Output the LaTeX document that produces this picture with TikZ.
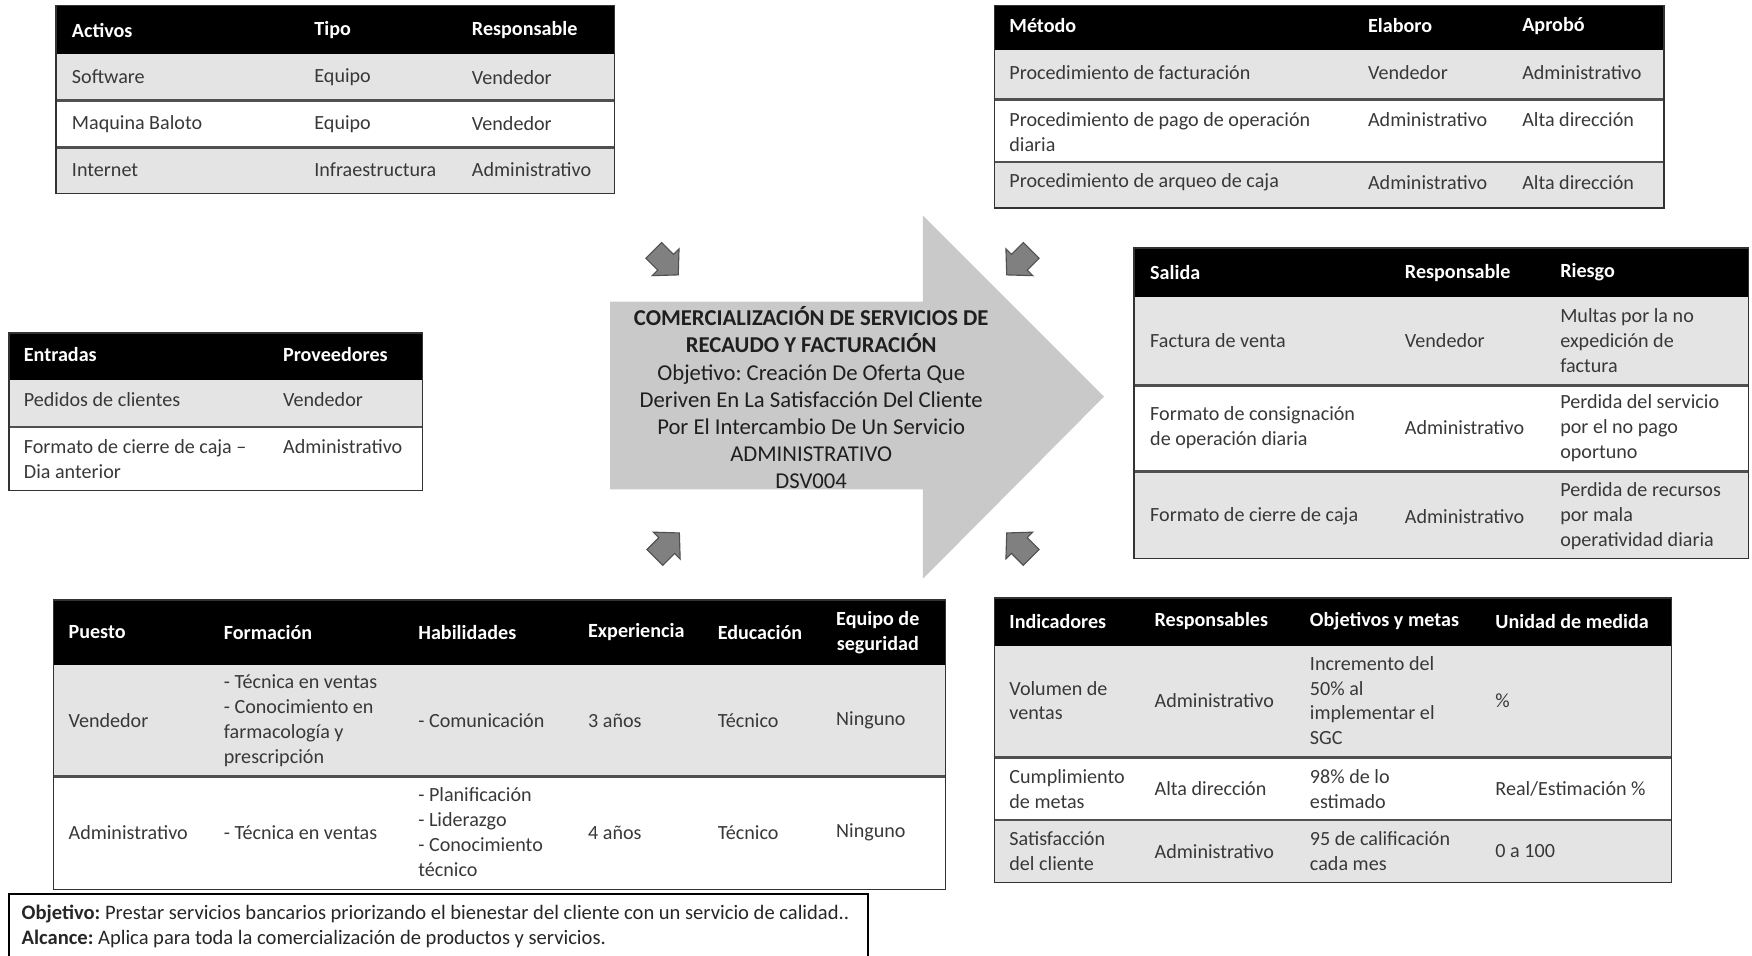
\documentclass[tikz,border=0pt]{standalone}
\usepackage{fontspec}
\setmainfont{Carlito}
\frenchspacing
\definecolor{rowgray}{HTML}{E4E4E4}
\definecolor{bodytxt}{HTML}{383838}
\definecolor{sepline}{HTML}{505050}
\definecolor{bigarrow}{HTML}{C9C9C9}
\definecolor{smallarrow}{HTML}{808080}
\definecolor{smalledge}{HTML}{505050}
\newcommand\tblfont{\fontsize{9}{11.15}\selectfont}
\newcommand\titlefont{\fontsize{10.15}{12.15}\selectfont}
\newcommand\notefont{\fontsize{9.2}{11}\selectfont}
\tikzset{
  hdr/.style={anchor=west, inner sep=0pt, text=white, font=\tblfont\bfseries, align=left},
  cell/.style={anchor=west, inner sep=0pt, text=bodytxt, font=\tblfont, align=left},
  headbar/.style={fill=black},
  graybar/.style={fill=rowgray},
  rowsep/.style={draw=sepline, line width=1pt},
  frame/.style={draw=black!80, line width=0.7pt},
  tinyarrow/.style={fill=smallarrow, draw=smalledge, line width=0.5pt, line join=miter},
}
\begin{document}
\begin{tikzpicture}[x=0.5pt,y=-0.5pt]
\useasboundingbox (0,0) rectangle (1568,855);

% ---------- central process arrow ----------
\fill[bigarrow] (546,270) -- (826,270) -- (826,193) -- (988,355) -- (826,518) -- (826,438) -- (546,438) -- cycle;
\node[align=center, inner sep=0pt, text=black!88, font=\titlefont] (proc) at (726,356)
  {\textbf{COMERCIALIZACIÓN DE SERVICIOS DE}\\
   \textbf{RECAUDO Y FACTURACIÓN}\\
   Objetivo: Creación De Oferta Que\\
   Deriven En La Satisfacción Del Cliente\\
   Por El Intercambio De Un Servicio\\
   ADMINISTRATIVO\\
   DSV004};

% ---------- four small block arrows around the process ----------
\foreach \cx/\cy/\ang in {595/234/-45, 913/234/-135, 596/489/45, 913/489/135}{
  \begin{scope}[shift={(\cx,\cy)}, rotate=\ang]
    \draw[tinyarrow] (-14,-10) -- (1,-10) -- (1,-17) -- (17,0) -- (1,17) -- (1,10) -- (-14,10) -- cycle;
  \end{scope}
}

% ---------- Activos ----------
\fill[headbar] (50,5) rectangle (550,48);
\fill[graybar] (50,48) rectangle (550,90);
\fill[graybar] (50,132) rectangle (550,173);
\draw[rowsep] (50,90) -- (550,90);
\draw[rowsep] (50,132) -- (550,132);
\draw[frame] (50,5) rectangle (550,173);
\node[hdr] (a-h1) at (64,27) {Activos};
\node[hdr] (a-h2) at (281,27) {Tipo};
\node[hdr] (a-h3) at (422,27) {Responsable};
\node[cell] (a-11) at (64,69) {Software};
\node[cell] (a-12) at (281,69) {Equipo};
\node[cell] (a-13) at (422,69) {Vendedor};
\node[cell] (a-21) at (64,111) {Maquina Baloto};
\node[cell] (a-22) at (281,111) {Equipo};
\node[cell] (a-23) at (422,111) {Vendedor};
\node[cell] (a-31) at (64,152) {Internet};
\node[cell] (a-32) at (281,152) {Infraestructura};
\node[cell] (a-33) at (422,152) {Administrativo};

% ---------- Método ----------
\fill[headbar] (890,5) rectangle (1489,45);
\fill[graybar] (890,45) rectangle (1489,89);
\fill[graybar] (890,145) rectangle (1489,186);
\draw[rowsep] (890,89) -- (1489,89);
\draw[rowsep] (890,145) -- (1489,145);
\draw[frame] (890,5) rectangle (1489,186);
\node[hdr] (m-h1) at (903,23) {Método};
\node[hdr] (m-h2) at (1224,23) {Elaboro};
\node[hdr] (m-h3) at (1362,23) {Aprobó};
\node[cell] (m-11) at (903,65) {Procedimiento de facturación};
\node[cell] (m-12) at (1224,65) {Vendedor};
\node[cell] (m-13) at (1362,65) {Administrativo};
\node[cell] (m-21) at (903,118) {Procedimiento de pago de operación\\diaria};
\node[cell] (m-22) at (1224,107) {Administrativo};
\node[cell] (m-23) at (1362,107) {Alta dirección};
\node[cell] (m-31) at (903,163) {Procedimiento de arqueo de caja};
\node[cell] (m-32) at (1224,163) {Administrativo};
\node[cell] (m-33) at (1362,163) {Alta dirección};

% ---------- Entradas ----------
\fill[headbar] (8,298) rectangle (378,340);
\fill[graybar] (8,340) rectangle (378,382);
\draw[rowsep] (8,382) -- (378,382);
\draw[frame] (8,298) rectangle (378,439);
\node[hdr] (e-h1) at (21,317) {Entradas};
\node[hdr] (e-h2) at (253,317) {Proveedores};
\node[cell] (e-11) at (21,358) {Pedidos de clientes};
\node[cell] (e-12) at (253,358) {Vendedor};
\node[cell] (e-21) at (21,411) {Formato de cierre de caja –\\Dia anterior};
\node[cell] (e-22) at (253,400) {Administrativo};

% ---------- Salida ----------
\fill[headbar] (1015,222) rectangle (1565,266);
\fill[graybar] (1015,266) rectangle (1565,345);
\fill[graybar] (1015,422) rectangle (1565,500);
\draw[rowsep] (1015,345) -- (1565,345);
\draw[rowsep] (1015,422) -- (1565,422);
\draw[frame] (1015,222) rectangle (1565,500);
\node[hdr] (s-h1) at (1029,244) {Salida};
\node[hdr] (s-h2) at (1257,244) {Responsable};
\node[hdr] (s-h3) at (1396,244) {Riesgo};
\node[cell] (s-11) at (1029,305) {Factura de venta};
\node[cell] (s-12) at (1257,305) {Vendedor};
\node[cell] (s-13) at (1396,305) {Multas por la no\\expedición de\\factura};
\node[cell] (s-21) at (1029,383) {Formato de consignación\\de operación diaria};
\node[cell] (s-22) at (1257,383) {Administrativo};
\node[cell] (s-23) at (1396,383) {Perdida del servicio\\por el no pago\\oportuno};
\node[cell] (s-31) at (1029,462) {Formato de cierre de caja};
\node[cell] (s-32) at (1257,462) {Administrativo};
\node[cell] (s-33) at (1396,462) {Perdida de recursos\\por mala\\operatividad diaria};

% ---------- Puesto ----------
\fill[headbar] (48,537) rectangle (846,595);
\fill[graybar] (48,595) rectangle (846,695);
\draw[rowsep] (48,695) -- (846,695);
\draw[frame] (48,537) rectangle (846,796);
\node[hdr] (p-h1) at (61,566) {Puesto};
\node[hdr] (p-h2) at (200,566) {Formación};
\node[hdr] (p-h3) at (374,566) {Habilidades};
\node[hdr] (p-h4) at (526,566) {Experiencia};
\node[hdr] (p-h5) at (642,566) {Educación};
\node[hdr, align=center] (p-h6) at (748,566) {Equipo de\\seguridad};
\node[cell] (p-11) at (61,645) {Vendedor};
\node[cell] (p-12) at (200,645) {- Técnica en ventas\\- Conocimiento en\\farmacología y\\prescripción};
\node[cell] (p-13) at (374,645) {- Comunicación};
\node[cell] (p-14) at (526,645) {3 años};
\node[cell] (p-15) at (642,645) {Técnico};
\node[cell] (p-16) at (748,645) {Ninguno};
\node[cell] (p-21) at (61,745) {Administrativo};
\node[cell] (p-22) at (200,745) {- Técnica en ventas};
\node[cell] (p-23) at (374,745) {- Planificación\\- Liderazgo\\- Conocimiento\\técnico};
\node[cell] (p-24) at (526,745) {4 años};
\node[cell] (p-25) at (642,745) {Técnico};
\node[cell] (p-26) at (748,745) {Ninguno};

% ---------- Indicadores ----------
\fill[headbar] (890,535) rectangle (1496,578);
\fill[graybar] (890,578) rectangle (1496,678);
\fill[graybar] (890,734) rectangle (1496,790);
\draw[rowsep] (890,678) -- (1496,678);
\draw[rowsep] (890,734) -- (1496,734);
\draw[frame] (890,535) rectangle (1496,790);
\node[hdr] (i-h1) at (903,556) {Indicadores};
\node[hdr] (i-h2) at (1033,556) {Responsables};
\node[hdr] (i-h3) at (1172,556) {Objetivos y metas};
\node[hdr] (i-h4) at (1338,556) {Unidad de medida};
\node[cell] (i-11) at (903,627) {Volumen de\\ventas};
\node[cell] (i-12) at (1033,627) {Administrativo};
\node[cell] (i-13) at (1172,627) {Incremento del\\50\% al\\implementar el\\SGC};
\node[cell] (i-14) at (1338,627) {\%};
\node[cell] (i-21) at (903,706) {Cumplimiento\\de metas};
\node[cell] (i-22) at (1033,706) {Alta dirección};
\node[cell] (i-23) at (1172,706) {98\% de lo\\estimado};
\node[cell] (i-24) at (1338,706) {Real/Estimación \%};
\node[cell] (i-31) at (903,762) {Satisfacción\\del cliente};
\node[cell] (i-32) at (1033,762) {Administrativo};
\node[cell] (i-33) at (1172,762) {95 de calificación\\cada mes};
\node[cell] (i-34) at (1338,762) {0 a 100};

% ---------- objective / scope note ----------
\draw[black, line width=0.7pt] (8,858) -- (8,800) -- (777,800) -- (777,858);
\node[anchor=west, inner sep=0pt, font=\notefont, text=black!85] (note-obj) at (19,818)
  {\textbf{Objetivo:} Prestar servicios bancarios priorizando el bienestar del cliente con un servicio de calidad..};
\node[anchor=west, inner sep=0pt, font=\notefont, text=black!85] (note-alc) at (19,840)
  {\textbf{Alcance:} Aplica para toda la comercialización de productos y servicios.};
\end{tikzpicture}
\end{document}
